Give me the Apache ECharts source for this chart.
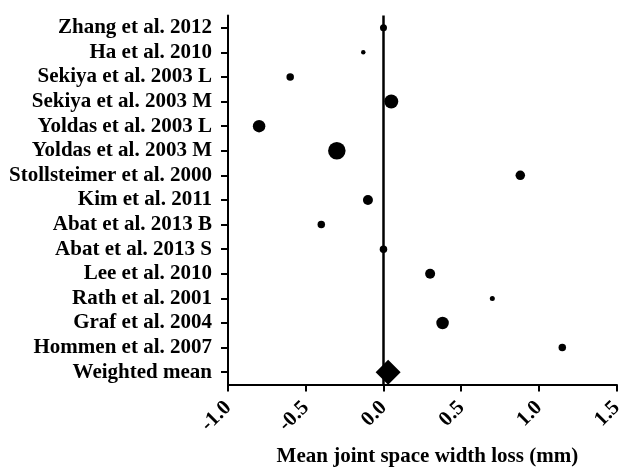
<!DOCTYPE html>
<html>
<head>
<meta charset="utf-8">
<script src="https://cdn.jsdelivr.net/npm/echarts@6/dist/echarts.min.js"></script>
<style>html,body{margin:0;padding:0;background:#fff;}#c{width:624px;height:469px;}</style>
</head>
<body>
<div id="c"></div>
<script>
const studies = ["Zhang et al. 2012","Ha et al. 2010","Sekiya et al. 2003 L","Sekiya et al. 2003 M","Yoldas et al. 2003 L","Yoldas et al. 2003 M","Stollsteimer et al. 2000","Kim et al. 2011","Abat et al. 2013 B","Abat et al. 2013 S","Lee et al. 2010","Rath et al. 2001","Graf et al. 2004","Hommen et al. 2007"];
const studyValues = [0.0, -0.13, -0.60, 0.05, -0.80, -0.30, 0.88, -0.10, -0.40, 0.0, 0.30, 0.70, 0.38, 1.15];
const studyWeights = [7, 4.5, 7.5, 14, 12.5, 17.5, 9.5, 10, 7.5, 7.5, 10, 5, 12.5, 7.5];
const meanLabel = "Weighted mean";
const meanValue = 0.03;
const xTicks = [-1.0, -0.5, 0.0, 0.5, 1.0, 1.5];
const xTitle = "Mean joint space width loss (mm)";

const categories = studies.concat([meanLabel]);
const font = "Liberation Serif";
const fs = 21;
const chart = echarts.init(document.getElementById('c'));
chart.setOption({
  animation: false,
  backgroundColor: '#fff',
  grid: {left: 228, right: 7.3, top: 15.4, bottom: 84.5, containLabel: false, outerBoundsMode: 'none'},
  xAxis: {
    type: 'value', min: xTicks[0], max: xTicks[xTicks.length-1], interval: 0.5,
    splitLine: {show: false},
    axisLine: {show: true, onZero: false, lineStyle: {color: '#000', width: 2}},
    axisTick: {show: true, inside: false, length: 7, lineStyle: {color: '#000', width: 2}},
    axisLabel: {rotate: 45, margin: 20, color: '#000', fontFamily: font, fontWeight: 'bold', fontSize: fs,
      formatter: v => v.toFixed(1)},
    name: xTitle, nameLocation: 'middle', nameGap: 62,
    nameTextStyle: {color: '#000', fontFamily: font, fontWeight: 'bold', fontSize: fs, padding: [0, 0, 0, 10]}
  },
  yAxis: {
    type: 'category', data: categories, inverse: true, boundaryGap: true,
    axisLine: {show: true, onZero: false, lineStyle: {color: '#000', width: 2}},
    axisTick: {show: true, alignWithLabel: true, length: 7, lineStyle: {color: '#000', width: 2}},
    axisLabel: {interval: 0, margin: 16, color: '#000', fontFamily: font, fontWeight: 'bold', fontSize: fs},
    splitLine: {show: false}
  },
  series: [
    {
      type: 'scatter',
      data: studyValues.map((v, i) => [v, i, studyWeights[i]]),
      symbol: 'circle',
      symbolSize: d => d[2],
      itemStyle: {color: '#000', opacity: 1},
      markLine: {
        silent: true, symbol: ['none','none'], label: {show: false},
        lineStyle: {color: '#000', width: 2.5, type: 'solid'},
        data: [{xAxis: 0}]
      },
      z: 3
    },
    {
      type: 'scatter',
      data: [[meanValue, studies.length]],
      symbol: 'diamond',
      symbolSize: [25, 25],
      itemStyle: {color: '#000', opacity: 1},
      z: 4
    }
  ]
});
</script>
</body>
</html>
